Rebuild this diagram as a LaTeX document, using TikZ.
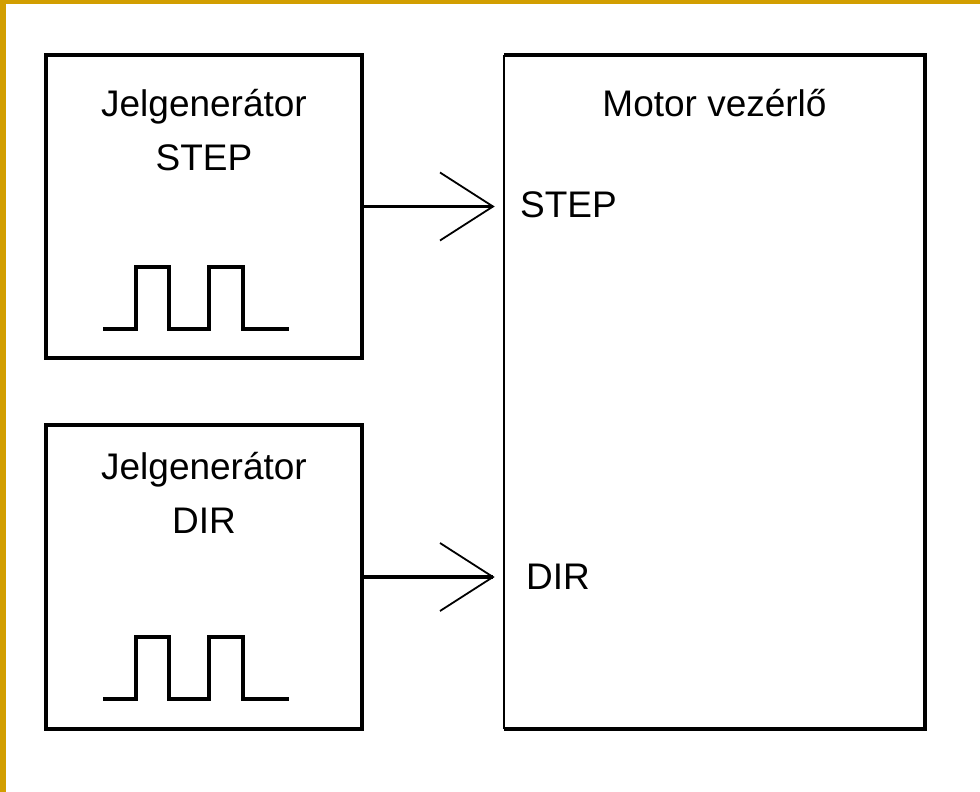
\documentclass[tikz,border=0pt]{standalone}
\usepackage{fontspec}
\setmainfont{Liberation Sans}
\definecolor{goldframe}{RGB}{210,158,0}
\begin{document}
\begin{tikzpicture}[x=1pt,y=-1pt,
  blk/.style={draw=black,line width=4pt,inner sep=0pt,outer sep=0pt},
  lbl/.style={inner sep=0pt,font=\fontsize{37}{44}\selectfont},
  wire/.style={line width=3.5pt},
  wing/.style={line width=1.8pt},
  pulsepath/.style={line width=3.5pt},
  pulse/.pic={\draw[pulsepath] (103,329) -| (136,267) -| (169,329) -| (209,267) -| (243,329) -- (289,329);}
]
\useasboundingbox (0,0) rectangle (980,792);
\fill[white] (0,0) rectangle (980,792);
\fill[goldframe] (0,0) rectangle (6,792);
\fill[goldframe] (0,0) rectangle (980,4);

% generator boxes
\node[blk,minimum width=316pt,minimum height=303pt] (gs) at (204,206.5) {};
\node[blk,minimum width=316pt,minimum height=304pt] (gd) at (204,577) {};
% motor controller box
\node[inner sep=0pt,outer sep=0pt,minimum width=421pt,minimum height=674pt] (mc) at (714.5,392) {};
\draw[line width=4pt] (mc.north west) -- (mc.north east) -- (mc.south east) -- (mc.south west);
\draw[line width=2.2pt] (mc.south west) -- (mc.north west);

% texts
\node[lbl,anchor=base] (gs1) at (204,116) {Jelgenerátor};
\node[lbl,anchor=base] (gs2) at (204,170) {STEP};
\node[lbl,anchor=base] (gd1) at (204,479) {Jelgenerátor};
\node[lbl,anchor=base] (gd2) at (204,533) {DIR};
\node[lbl,anchor=base] (mct) at (714.5,116) {Motor vezérlő};
\node[lbl,anchor=base west] (ms) at (520,217) {STEP};
\node[lbl,anchor=base west] (md) at (526,589) {DIR};

% pulses
\pic at (0,0) {pulse};
\pic at (0,370) {pulse};

% arrows
\coordinate (ts) at (493,206.5);
\coordinate (td) at (493,577);
\draw[wire] (gs.east) -- (ts);
\draw[wing] ([shift={(-53,-34)}]ts) -- (ts) -- ([shift={(-53,34)}]ts);
\draw[wire] (gd.east) -- (td);
\draw[wing] ([shift={(-53,-34)}]td) -- (td) -- ([shift={(-53,34)}]td);
\end{tikzpicture}
\end{document}
